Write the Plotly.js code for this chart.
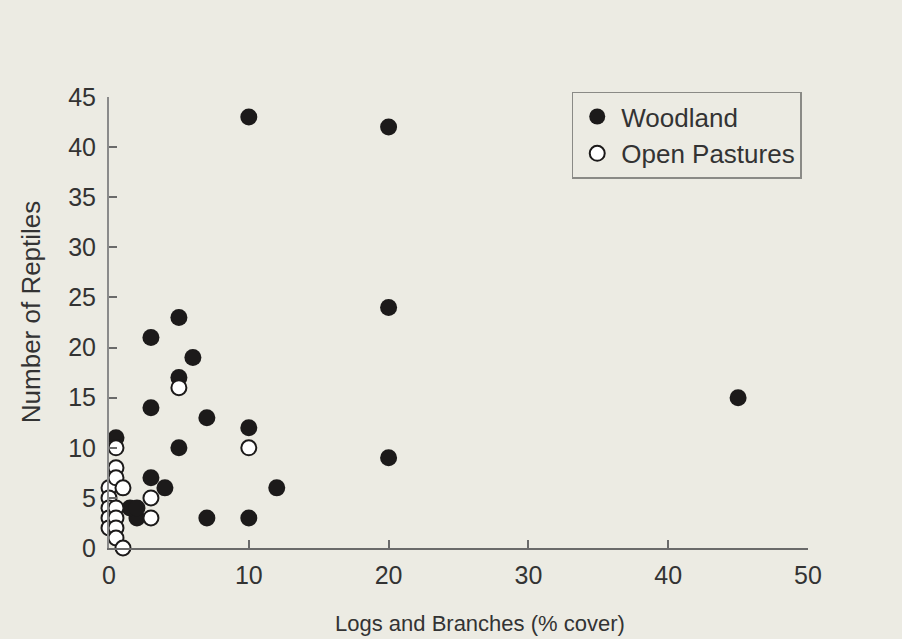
<!DOCTYPE html>
<html>
<head>
<meta charset="utf-8">
<script src="https://cdn.plot.ly/plotly-3.0.1.min.js"></script>
<style>html,body{margin:0;padding:0;background:#ecebe3;}#chart{width:902px;height:639px;}</style>
</head>
<body>
<div id="chart"></div>
<script>
const woodlandX = [10, 20, 20, 45, 20, 3, 5, 6, 5, 3, 7, 10, 5, 0.5, 3, 4, 12, 7, 10, 2, 1.5, 2];
const woodlandY = [43, 42, 24, 15, 9, 21, 23, 19, 17, 14, 13, 12, 10, 11, 7, 6, 6, 3, 3, 3, 4, 4];
const pastureX = [0, 0, 0, 0, 0, 0.5, 0.5, 0.5, 1, 0.5, 0.5, 0.5, 0.5, 1, 3, 3, 5, 10];
const pastureY = [6, 5, 4, 3, 2, 10, 8, 7, 6, 4, 3, 2, 1, 0, 5, 3, 16, 10];
const xTicks = [0, 10, 20, 30, 40, 50];
const yTicks = [0, 5, 10, 15, 20, 25, 30, 35, 40, 45];
const xTitle = 'Logs and Branches (% cover)';
const yTitle = 'Number of Reptiles';

const font = {family: 'Liberation Sans, Arial, sans-serif', color: '#333333'};
const data = [
  {x: woodlandX, y: woodlandY, type: 'scatter', mode: 'markers', name: 'Woodland', cliponaxis: false,
   marker: {size: 17, color: '#1c1a1a', line: {width: 0}}},
  {x: pastureX, y: pastureY, type: 'scatter', mode: 'markers', name: 'Open Pastures', cliponaxis: false,
   marker: {size: 15, color: '#ffffff', line: {width: 2, color: '#1c1a1a'}}}
];
const layout = {
  width: 902, height: 639,
  paper_bgcolor: '#ecebe3', plot_bgcolor: '#ecebe3',
  margin: {l: 109, r: 94, t: 97, b: 91},
  showlegend: true,
  legend: {x: 0.662, y: 1.012, xanchor: 'left', yanchor: 'top', bgcolor: '#ecebe3',
           bordercolor: '#8a8a86', borderwidth: 1.5, font: Object.assign({}, font, {size: 26}),
           itemwidth: 38, tracegroupgap: 0},
  xaxis: {range: [0, 50], tickvals: xTicks, ticktext: xTicks.map(String), showgrid: false, zeroline: false,
          showline: true, linecolor: '#6a6a6a', linewidth: 2, ticks: 'inside', ticklen: 8, tickwidth: 2,
          tickcolor: '#6a6a6a', tickfont: Object.assign({}, font, {size: 25}), ticklabelstandoff: 4},
  yaxis: {range: [0, 45], tickvals: yTicks, ticktext: yTicks.map(String), showgrid: false, zeroline: false,
          showline: true, linecolor: '#8a8a8a', linewidth: 2, ticks: 'inside', ticklen: 8, tickwidth: 2,
          tickcolor: '#6a6a6a', tickfont: Object.assign({}, font, {size: 25}), ticklabelstandoff: 6},
  annotations: [
    {text: xTitle, xref: 'paper', yref: 'paper', x: 0.531, y: -0.1685, xanchor: 'center', yanchor: 'middle',
     showarrow: false, font: Object.assign({}, font, {size: 22})},
    {text: yTitle, xref: 'paper', yref: 'paper', x: -0.1116, y: 0.525, xanchor: 'center', yanchor: 'middle',
     textangle: -90, showarrow: false, font: Object.assign({}, font, {size: 26})}
  ]
};
Plotly.newPlot('chart', data, layout, {displayModeBar: false, staticPlot: true});
</script>
</body>
</html>
